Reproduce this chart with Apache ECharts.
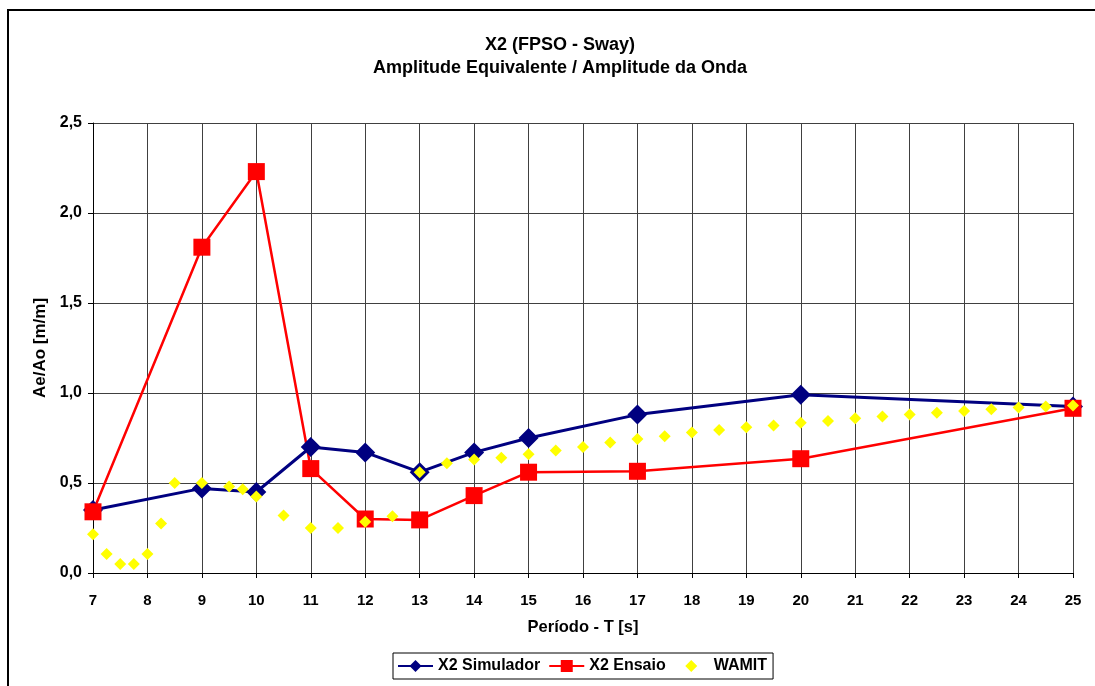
<!DOCTYPE html>
<html>
<head>
<meta charset="utf-8">
<title>X2 (FPSO - Sway)</title>
<script src="https://cdn.jsdelivr.net/npm/echarts@6/dist/echarts.min.js"></script>
<style>
    html, body { margin: 0; padding: 0; background: #fff; }
    #chart { width: 1095px; height: 686px; }
</style>
</head>
<body>
<div id="chart"></div>
<script>
    // períodos e valores
    var simT = [7, 9, 10, 11, 12, 13, 14, 15, 17, 20, 25]
    var simVal = [0.35, 0.47, 0.45, 0.70, 0.67, 0.56, 0.67, 0.75, 0.88, 0.99, 0.925]
    var ensT = [7, 9, 10, 11, 12, 13, 14, 15, 17, 20, 25]
    var ensVal = [0.34, 1.81, 2.23, 0.58, 0.30, 0.295, 0.43, 0.56, 0.565, 0.635, 0.915]
    var wamitT = [7, 7.25, 7.5, 7.75, 8, 8.25, 8.5, 9, 9.5, 9.75, 10, 10.5, 11, 11.5, 12, 12.5, 13,
        13.5, 14, 14.5, 15, 15.5, 16, 16.5, 17, 17.5, 18, 18.5, 19, 19.5, 20,
        20.5, 21, 21.5, 22, 22.5, 23, 23.5, 24, 24.5, 25]
    var wamitVal = [0.215, 0.105, 0.05, 0.05, 0.105, 0.275, 0.50, 0.50, 0.48, 0.465, 0.425, 0.32, 0.25, 0.25, 0.285, 0.315, 0.56,
        0.61, 0.63, 0.64, 0.66, 0.68, 0.70, 0.725, 0.745, 0.76, 0.78, 0.795, 0.81, 0.82, 0.835,
        0.845, 0.86, 0.87, 0.88, 0.89, 0.90, 0.91, 0.92, 0.925, 0.93]

    function pairs(xs, ys) {
        return xs.map(function (x, i) { return [x, ys[i]] })
    }

    var font = 'Liberation Sans, Arial, sans-serif'
    var gridColor = '#404040'

    var myChart = echarts.init(document.getElementById('chart'))
    myChart.setOption({
        animation: false,
        textStyle: { fontFamily: font },
        title: {
            text: 'X2 (FPSO - Sway)\nAmplitude Equivalente / Amplitude da Onda',
            left: 555,
            top: 29,
            textAlign: 'center',
            textStyle: { fontSize: 18, fontWeight: 'bold', color: '#000', lineHeight: 23, fontFamily: font }
        },
        graphic: [{
            type: 'rect',
            shape: { x: 8, y: 10, width: 1100, height: 700 },
            style: { fill: 'none', stroke: '#000', lineWidth: 2 },
            silent: true
        }],
        grid: { left: 93, right: 22, top: 123, bottom: 113 },
        legend: {
            left: 393,
            top: 653,
            padding: [5, 6, 5, 4],
            itemWidth: 35,
            itemHeight: 15,
            itemGap: 8,
            borderColor: '#000',
            borderWidth: 1,
            textStyle: { fontSize: 16, fontWeight: 'bold', color: '#000', fontFamily: font },
            data: ['X2 Simulador', 'X2 Ensaio', 'WAMIT']
        },
        xAxis: {
            type: 'value',
            min: 7,
            max: 25,
            interval: 1,
            name: 'Período - T [s]',
            nameLocation: 'middle',
            nameGap: 46,
            nameTextStyle: { fontSize: 16.5, fontWeight: 'bold', color: '#000' },
            axisLine: { onZero: false, lineStyle: { color: '#000', width: 1 } },
            axisTick: { show: true, length: 5, lineStyle: { color: '#000' } },
            axisLabel: { margin: 20, fontSize: 15, fontWeight: 'bold', color: '#000' },
            splitLine: { show: true, lineStyle: { color: gridColor, width: 1 } }
        },
        yAxis: {
            type: 'value',
            min: 0,
            max: 2.5,
            interval: 0.5,
            name: 'Ae/Ao [m/m]',
            nameLocation: 'middle',
            nameGap: 43,
            nameTextStyle: { fontSize: 17, fontWeight: 'bold', color: '#000' },
            axisLine: { show: true, lineStyle: { color: '#000', width: 1 } },
            axisTick: { show: true, length: 5, lineStyle: { color: '#000' } },
            axisLabel: {
                margin: 11,
                fontSize: 16,
                fontWeight: 'bold',
                color: '#000',
                formatter: function (v) { return v.toFixed(1).replace('.', ',') }
            },
            splitLine: { show: true, lineStyle: { color: gridColor, width: 1 } }
        },
        series: [
            {
                name: 'X2 Simulador',
                type: 'line',
                data: pairs(simT, simVal),
                symbol: 'diamond',
                symbolSize: 20,
                clip: false,
                lineStyle: { color: '#000080', width: 3 },
                itemStyle: { color: '#000080' }
            },
            {
                name: 'X2 Ensaio',
                type: 'line',
                data: pairs(ensT, ensVal),
                symbol: 'rect',
                symbolSize: 17,
                clip: false,
                lineStyle: { color: '#ff0000', width: 2.5 },
                itemStyle: { color: '#ff0000' }
            },
            {
                name: 'WAMIT',
                type: 'line',
                data: pairs(wamitT, wamitVal),
                symbol: 'diamond',
                symbolSize: 12,
                clip: false,
                lineStyle: { width: 0, opacity: 0 },
                itemStyle: { color: '#ffff00' }
            }
        ]
    })
</script>
</body>
</html>
